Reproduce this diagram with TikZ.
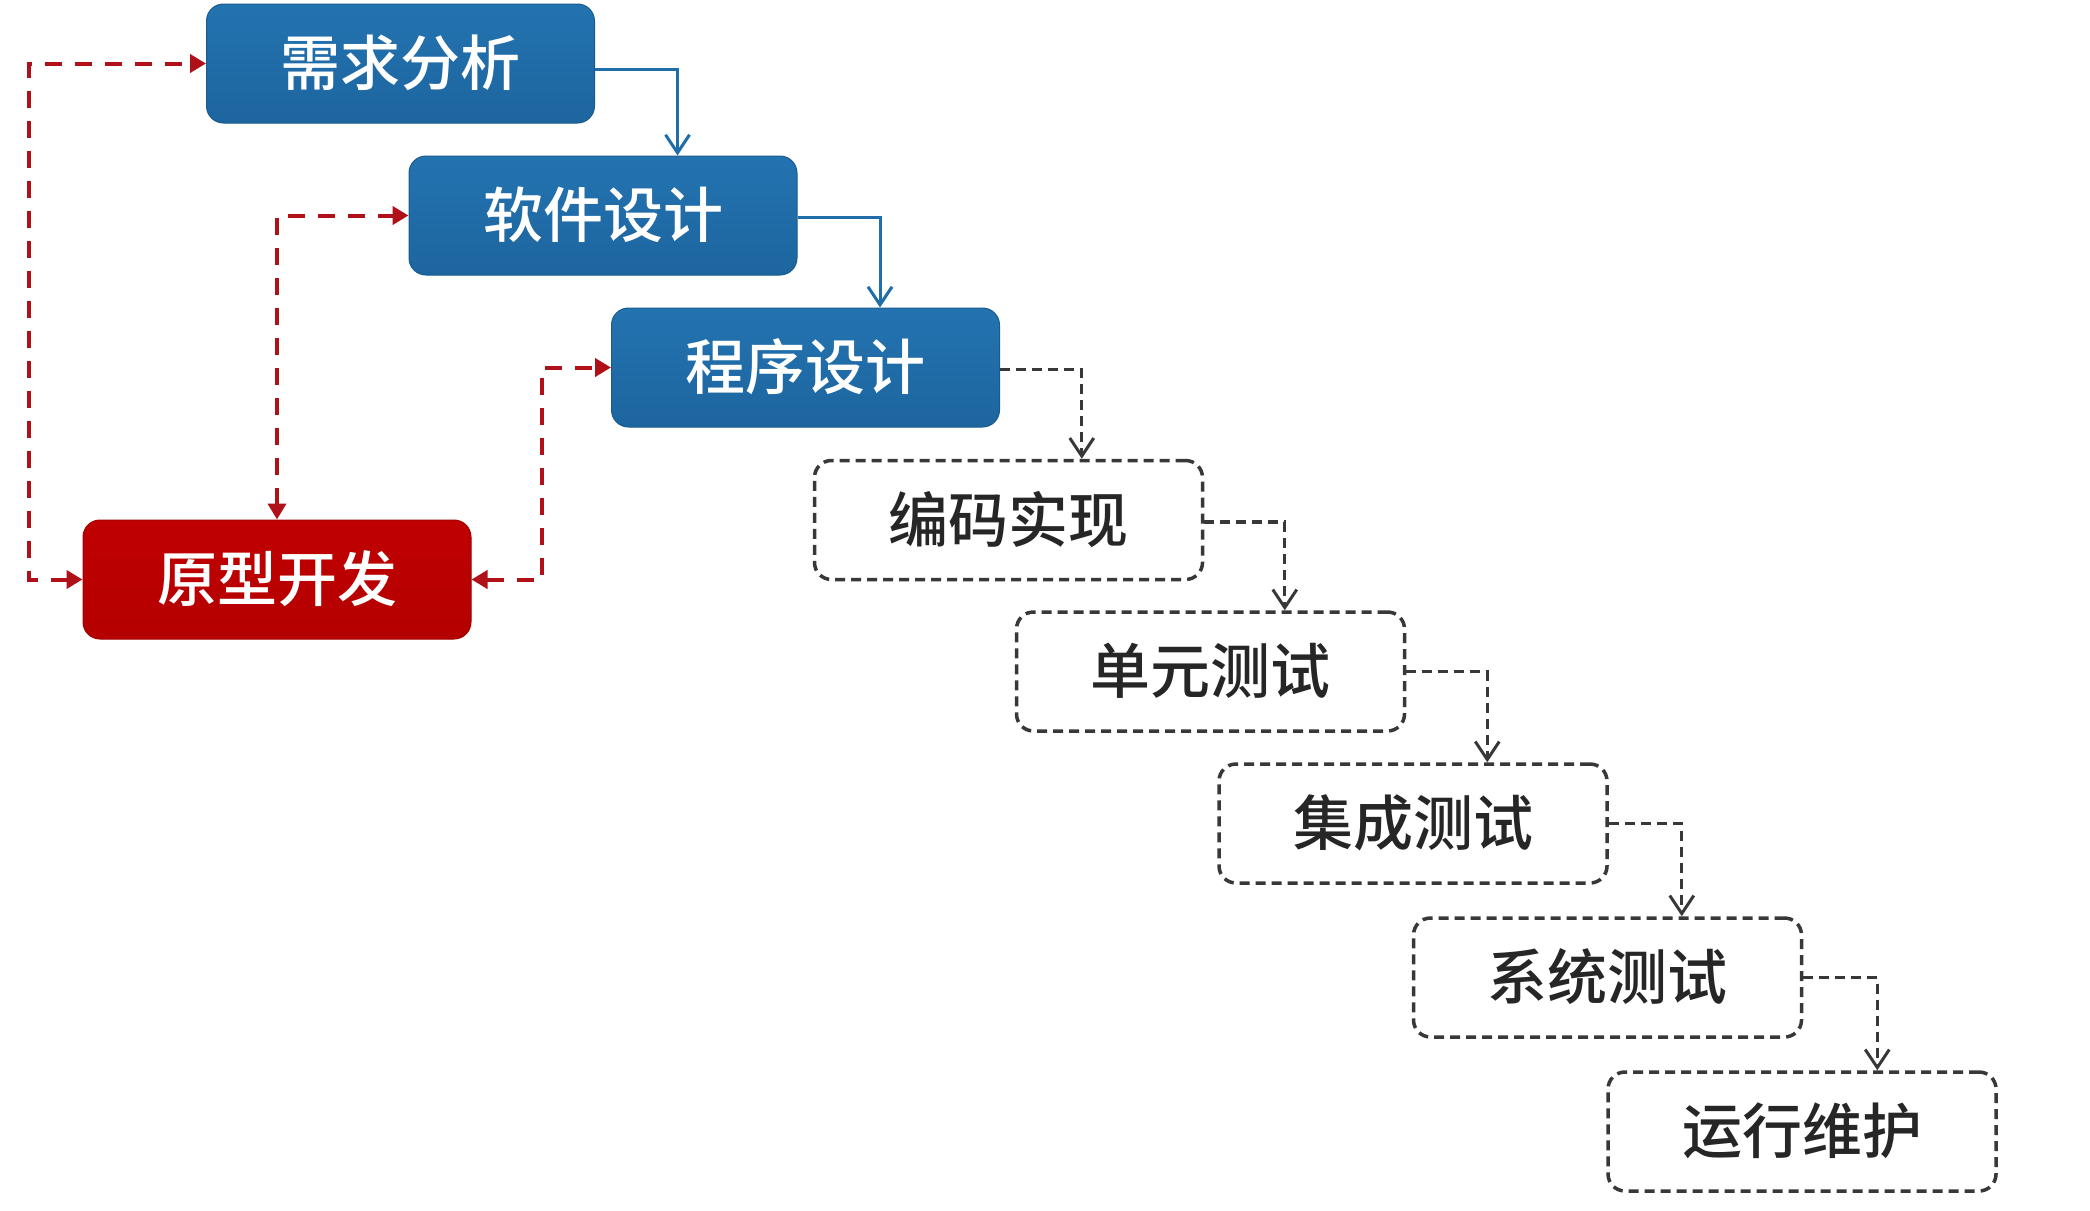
\documentclass[tikz,border=0pt]{standalone}
\usepackage{fontspec}
\newfontfamily\cjk{Noto Sans CJK SC}[UprightFont={* Medium}, BoldFont={* Bold}]
\usetikzlibrary{arrows.meta}
\definecolor{boxblue}{HTML}{1F6EAA}
\definecolor{boxblueT}{HTML}{2373B0}
\definecolor{boxblueB}{HTML}{1D659F}
\definecolor{boxred}{HTML}{C00000}
\definecolor{redline}{HTML}{B01018}
\definecolor{grayline}{HTML}{383838}
\newcommand{\up}[1]{\raisebox{7pt}{#1}}
\tikzset{
  bluebox/.style={rounded corners=17pt, minimum width=388pt, minimum height=119pt,
    top color=boxblueT, bottom color=boxblueB, draw=boxblueB!90!black, line width=1pt,
    text=white, font=\cjk\fontsize{60}{64}\selectfont, inner sep=0pt},
  redbox/.style={bluebox, top color=boxred, bottom color=boxred!94!black, draw=boxred!85!black},
  dashbox/.style={rounded corners=17pt, minimum width=388pt, minimum height=119pt,
    draw=grayline, line width=3.5pt, dash pattern=on 10pt off 6pt, fill=white,
    text=black!85, font=\cjk\fontsize{60}{64}\selectfont, inner sep=0pt},
  bluearrow/.style={draw=boxblue, line width=3pt, -{Straight Barb[length=18pt,width=24pt,line width=3pt]}},
  grayarrow/.style={draw=grayline, line width=3.2pt, dash pattern=on 10pt off 6pt,
    -{Straight Barb[length=18pt,width=24pt,line width=3pt]}},
  redarrow/.style={draw=redline, line width=4pt, dash pattern=on 17pt off 13pt,
    {Triangle[length=16pt,width=18pt]}-{Triangle[length=16pt,width=18pt]}},
}
\begin{document}
\begin{tikzpicture}[x=1pt,y=-1pt]
\useasboundingbox (0,0) rectangle (2090,1210);
\fill[white] (0,0) rectangle (2090,1210);
% main steps
\node[bluebox] (xq) at (400.5,63.5) {\up{需求分析}};
\node[bluebox] (rj) at (603,215.5) {\up{软件设计}};
\node[bluebox] (cx) at (805.5,367.5) {\up{程序设计}};
\node[dashbox] (bm) at (1008.5,520) {\up{编码实现}};
\node[dashbox] (dy) at (1210.5,671.5) {\up{单元测试}};
\node[dashbox] (jc) at (1413,823.5) {\up{集成测试}};
\node[dashbox] (xt) at (1607.5,977.5) {\up{系统测试}};
\node[dashbox] (yx) at (1802,1131.5) {\up{运行维护}};
\node[redbox] (yk) at (277,579.5) {\up{原型开发}};
% waterfall connectors
\draw[bluearrow] ([yshift=-6pt]xq.east) -| ([xshift=269pt]rj.north west);
\draw[bluearrow] ([yshift=-2pt]rj.east) -| ([xshift=269pt]cx.north west);
\draw[grayarrow] ([yshift=-2pt]cx.east) -| ([xshift=269pt]bm.north west);
\draw[grayarrow] ([yshift=-2pt]bm.east) -| ([xshift=270pt]dy.north west);
\draw[grayarrow] (dy.east) -| ([xshift=270pt]jc.north west);
\draw[grayarrow] (jc.east) -| ([xshift=270pt]xt.north west);
\draw[grayarrow] (xt.east) -| ([xshift=271pt]yx.north west);
% prototype feedback loops
\coordinate (outer) at (29,0);
\coordinate (inner) at (542,0);
\draw[redarrow] (yk.west) -- (yk.west -| outer) |- (xq.west);
\draw[redarrow] (yk.north) |- (rj.west);
\draw[redarrow] (yk.east) -- (yk.east -| inner) |- (cx.west);
\end{tikzpicture}
\end{document}
